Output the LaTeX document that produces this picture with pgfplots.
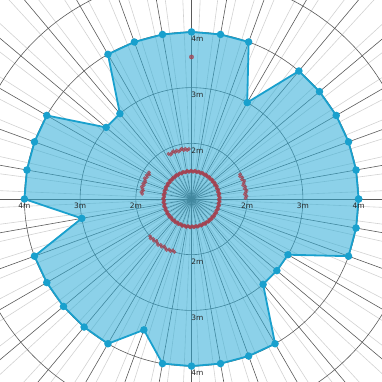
\documentclass[border=0pt]{standalone}
\usepackage{pgfplots}
\pgfplotsset{compat=1.18}
\usepackage{pgfplotstable}
\usepackage{fontspec}
\setmainfont{DejaVu Sans}
\definecolor{gridDark}{RGB}{90,90,90}
\definecolor{gridLight}{RGB}{210,210,210}
\definecolor{fillBlue}{RGB}{45,172,215}
\definecolor{edgeBlue}{RGB}{25,160,205}
\definecolor{dotRed}{RGB}{165,65,80}

\pgfplotstableread{
a r
0 4
10 4
20 4
30 4
40 4
50 4
60 3
70 4
80 4
90 4
100 4
110 4
120 4
130 3
140 3
150 4
160 4
170 4
180 4
190 3
200 4
210 4
220 4
230 4
240 4
250 3.5
260 4
270 4
280 4
290 4
300 4
310 3
320 3
330 3
340 4
350 4
360 4
}\outline

\pgfplotstableread{
a r
0 1.49
4 1.51
8 1.49
12 1.51
16 1.49
20 1.51
24 1.49
28 1.51
32 1.49
36 1.51
40 1.49
44 1.51
48 1.49
52 1.51
56 1.49
60 1.51
64 1.49
68 1.51
72 1.49
76 1.51
80 1.49
84 1.51
88 1.49
92 1.51
96 1.49
100 1.51
104 1.49
108 1.51
112 1.49
116 1.51
120 1.49
124 1.51
128 1.49
132 1.51
136 1.49
140 1.51
144 1.49
148 1.51
152 1.49
156 1.51
160 1.49
164 1.51
168 1.49
172 1.51
176 1.49
180 1.51
184 1.49
188 1.51
192 1.49
196 1.51
200 1.49
204 1.51
208 1.49
212 1.51
216 1.49
220 1.51
224 1.49
228 1.51
232 1.49
236 1.51
240 1.49
244 1.51
248 1.49
252 1.51
256 1.49
260 1.51
264 1.49
268 1.51
272 1.49
276 1.51
280 1.49
284 1.51
288 1.49
292 1.51
296 1.49
300 1.51
304 1.49
308 1.51
312 1.49
316 1.51
320 1.49
324 1.51
328 1.49
332 1.51
336 1.49
340 1.51
344 1.49
348 1.51
352 1.49
356 1.51
2 1.51
6 1.49
10 1.51
14 1.49
18 1.51
22 1.49
26 1.51
30 1.49
34 1.51
38 1.49
42 1.51
46 1.49
50 1.51
54 1.49
58 1.51
62 1.49
66 1.51
70 1.49
74 1.51
78 1.49
82 1.51
86 1.49
90 1.51
94 1.49
98 1.51
102 1.49
106 1.51
110 1.49
114 1.51
118 1.49
122 1.51
126 1.49
130 1.51
134 1.49
138 1.51
142 1.49
146 1.51
150 1.49
154 1.51
158 1.49
162 1.51
166 1.49
170 1.51
174 1.49
178 1.51
182 1.49
186 1.51
190 1.49
194 1.51
198 1.49
202 1.51
206 1.49
210 1.51
214 1.49
218 1.51
222 1.49
226 1.51
230 1.49
234 1.51
238 1.49
242 1.51
246 1.49
250 1.51
254 1.49
258 1.51
262 1.49
266 1.51
270 1.49
274 1.51
278 1.49
282 1.51
286 1.49
290 1.51
294 1.49
298 1.51
302 1.49
306 1.51
310 1.49
314 1.51
318 1.49
322 1.51
326 1.49
330 1.51
334 1.49
338 1.51
342 1.49
346 1.51
350 1.49
354 1.51
358 1.49
}\ring

\pgfplotstableread{
a r
1 1.97
3 1.99
5 1.96
7 1.98
9 2.00
11 1.97
13 1.99
15 1.96
17 1.98
19 2.00
21 1.97
23 1.99
25 1.96
27 1.98
93 1.90
95 1.88
97 1.91
99 1.89
101 1.92
103 1.90
105 1.88
107 1.91
109 1.89
111 1.92
113 1.90
115 1.88
117 1.91
148 1.90
150 1.88
152 1.91
154 1.89
156 1.92
158 1.90
160 1.88
162 1.91
164 1.89
166 1.92
168 1.90
170 1.88
172 1.91
174 1.89
222 2.00
224 2.02
226 1.99
228 2.01
230 1.98
232 2.00
234 2.02
236 1.99
238 2.01
240 1.98
242 2.00
244 2.02
246 1.99
248 2.01
250 1.98
252 2.00
}\arcs

\pgfplotstableread{
a r
90 3.55
}\single

\begin{document}
\begin{tikzpicture}
\begin{axis}[
  x=55.7bp, y=55.7bp,
  xmin=-3.438, xmax=3.420, ymin=-3.285, ymax=3.573,
  hide axis, clip=true,
]
% light radial lines
\pgfplotsinvokeforeach{0,5,...,355}{
  \draw[gridLight, line width=0.6bp] (axis cs:0,0) -- (axis cs:{6*cos(#1+2.5)},{6*sin(#1+2.5)});
}
% dark radial lines
\pgfplotsinvokeforeach{0,10,...,350}{
  \draw[gridDark, line width=0.6bp] (axis cs:0,0) -- (axis cs:{6*cos(#1)},{6*sin(#1)});
}
% rings
\pgfplotsinvokeforeach{1,2,3,4,5}{
  \draw[gridDark, line width=0.6bp] (axis cs:0,0) circle [radius=#1];
}
\addplot[fill=fillBlue, fill opacity=0.55, draw=edgeBlue, line width=1.8bp,
  mark=*, mark size=2.8bp, mark options={fill=edgeBlue, draw=edgeBlue, fill opacity=1}]
  table[x expr={(\thisrow{r}-1)*cos(\thisrow{a})}, y expr={(\thisrow{r}-1)*sin(\thisrow{a})}] {\outline};
\addplot[color=dotRed, opacity=0.7, only marks, mark=*, mark size=1.6bp]
  table[x expr={(\thisrow{r}-1)*cos(\thisrow{a})}, y expr={(\thisrow{r}-1)*sin(\thisrow{a})}] {\ring};
\addplot[color=dotRed, opacity=0.7, only marks, mark=*, mark size=1.7bp]
  table[x expr={(\thisrow{r}-1)*cos(\thisrow{a})}, y expr={(\thisrow{r}-1)*sin(\thisrow{a})}] {\arcs};
\addplot[color=dotRed, opacity=0.75, only marks, mark=*, mark size=2.2bp]
  table[x expr={(\thisrow{r}-1)*cos(\thisrow{a})}, y expr={(\thisrow{r}-1)*sin(\thisrow{a})}] {\single};
% labels
\node[font=\fontsize{7.5}{8}\selectfont, text=black!85] at (axis cs:-1,0) [yshift=-7bp] {2m};
\node[font=\fontsize{7.5}{8}\selectfont, text=black!85] at (axis cs:-2,0) [yshift=-7bp] {3m};
\node[font=\fontsize{7.5}{8}\selectfont, text=black!85] at (axis cs:-3,0) [yshift=-7bp] {4m};
\node[font=\fontsize{7.5}{8}\selectfont, text=black!85] at (axis cs:1,0) [yshift=-7bp] {2m};
\node[font=\fontsize{7.5}{8}\selectfont, text=black!85] at (axis cs:2,0) [yshift=-7bp] {3m};
\node[font=\fontsize{7.5}{8}\selectfont, text=black!85] at (axis cs:3,0) [yshift=-7bp] {4m};
\node[font=\fontsize{7.5}{8}\selectfont, text=black!85] at (axis cs:0,1) [xshift=6bp, yshift=-7bp] {2m};
\node[font=\fontsize{7.5}{8}\selectfont, text=black!85] at (axis cs:0,2) [xshift=6bp, yshift=-7bp] {3m};
\node[font=\fontsize{7.5}{8}\selectfont, text=black!85] at (axis cs:0,3) [xshift=6bp, yshift=-7bp] {4m};
\node[font=\fontsize{7.5}{8}\selectfont, text=black!85] at (axis cs:0,-1) [xshift=6bp, yshift=-7bp] {2m};
\node[font=\fontsize{7.5}{8}\selectfont, text=black!85] at (axis cs:0,-2) [xshift=6bp, yshift=-7bp] {3m};
\node[font=\fontsize{7.5}{8}\selectfont, text=black!85] at (axis cs:0,-3) [xshift=6bp, yshift=-7bp] {4m};
\coordinate (bl) at (rel axis cs:0,0);
\coordinate (tr) at (rel axis cs:1,1);
\end{axis}
\pgfresetboundingbox
\path[use as bounding box] (bl) rectangle (tr);
\end{tikzpicture}
\end{document}
